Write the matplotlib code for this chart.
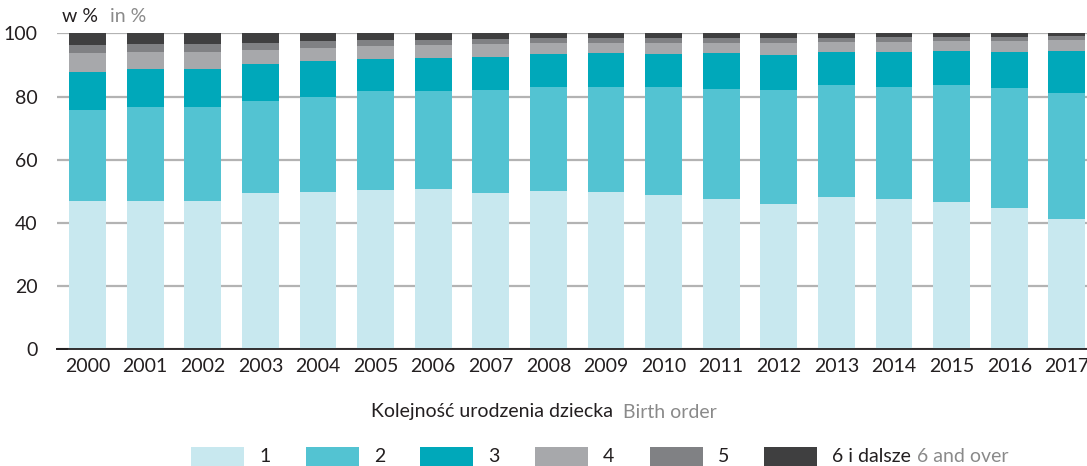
import numpy as np
import matplotlib
matplotlib.use("Agg")
import matplotlib.pyplot as plt
from matplotlib.patches import Rectangle

plt.rcParams['font.family'] = ['Lato', 'DejaVu Sans']

years = [str(y) for y in range(2000, 2018)]

# cumulative tops (percent)
top_1 = [46.9, 46.9, 46.9, 49.5, 49.8, 50.4, 50.7, 49.5, 50.1,
         49.8, 48.8, 47.6, 46.0, 48.2, 47.6, 46.6, 44.7, 41.2]
top_2 = [75.8, 76.7, 76.7, 78.6, 80.0, 81.7, 81.7, 82.1, 82.9,
         82.9, 82.9, 82.3, 82.1, 83.5, 82.9, 83.5, 82.6, 81.2]
top_3 = [87.8, 88.7, 88.7, 90.3, 91.3, 91.9, 92.2, 92.5, 93.5,
         93.8, 93.5, 93.8, 93.2, 94.1, 94.1, 94.4, 94.1, 94.4]
top_4 = [93.8, 94.1, 94.1, 94.7, 95.4, 96.0, 96.3, 96.6, 96.9,
         96.9, 96.9, 96.9, 96.9, 97.2, 97.2, 97.6, 97.6, 97.9]
top_5 = [96.3, 96.6, 96.6, 96.9, 97.6, 97.9, 97.9, 98.2, 98.5,
         98.5, 98.5, 98.5, 98.5, 98.5, 98.8, 98.8, 98.8, 99.2]

order_1 = np.array(top_1)
order_2 = np.array(top_2) - np.array(top_1)
order_3 = np.array(top_3) - np.array(top_2)
order_4 = np.array(top_4) - np.array(top_3)
order_5 = np.array(top_5) - np.array(top_4)
order_6 = 100 - np.array(top_5)

series = [order_1, order_2, order_3, order_4, order_5, order_6]
labels = ['1', '2', '3', '4', '5', '6 i dalsze']
colors = ['#c8e8ef', '#53c3d2', '#00a8ba', '#a7a8ab', '#808184', '#3f3f40']

dark = '#231f20'
grey_txt = '#8a8a8a'
fs = 14

W, H = 1087, 466
fig = plt.figure(figsize=(W / 100, H / 100), dpi=100)
ax = fig.add_axes([57 / W, (H - 349.3) / H, 1 - 57 / W, (349.3 - 33.3) / H])

x = np.arange(len(years))
bottom = np.zeros(len(years))
for vals, col in zip(series, colors):
    ax.bar(x, vals, bottom=bottom, width=0.64, color=col, linewidth=0, zorder=2)
    bottom += vals

ax.set_xlim(-0.53, 17.35)
ax.set_ylim(0, 100)
ax.set_yticks([0, 20, 40, 60, 80, 100])
ax.yaxis.grid(True, color='#b3b3b3', linewidth=1.6, zorder=1)
ax.set_axisbelow(True)
for s in ['top', 'right', 'left']:
    ax.spines[s].set_visible(False)
ax.spines['bottom'].set_color(dark)
ax.spines['bottom'].set_linewidth(1.3)
ax.spines['bottom'].set_zorder(3)
ax.tick_params(axis='y', length=0, pad=14, labelsize=fs, labelcolor=dark)
ax.tick_params(axis='x', length=0, pad=6, labelsize=fs, labelcolor=dark)
ax.set_xticks(x)
ax.set_xticklabels(years)
# short dash left of zero
ax.plot([-0.53, -0.36], [0, 0], color=dark, lw=1.3, clip_on=False, zorder=3)

renderer = fig.canvas.get_renderer()


def text_after(prev, s, color, gap=7):
    # place a text right after the previous one
    bb = prev.get_window_extent(renderer)
    return fig.text((bb.x1 + gap) / W, prev.get_position()[1], s, color=color,
                    fontsize=fs, va='center', ha='left')


t = fig.text(62 / W, 1 - 17 / H, 'w %', color=dark, fontsize=fs, va='center', ha='left')
text_after(t, 'in %', grey_txt, gap=12)

t1 = fig.text(371 / W, 1 - 412 / H, 'Kolejność urodzenia dziecka', color=dark,
              fontsize=fs, va='center', ha='left')
text_after(t1, 'Birth order', grey_txt, gap=10)

# legend
box_x = [191, 306, 420, 535, 650, 764]
for bx, col, lab in zip(box_x, colors, labels):
    fig.add_artist(Rectangle((bx / W, 0), 53 / W, 19 / H,
                             transform=fig.transFigure, color=col, lw=0))
    lt = fig.text((bx + 68) / W, 1 - 457 / H, lab, color=dark, fontsize=fs,
                  va='center', ha='left')
text_after(lt, '6 and over', grey_txt, gap=6)

fig.savefig('out.png', dpi=100)
